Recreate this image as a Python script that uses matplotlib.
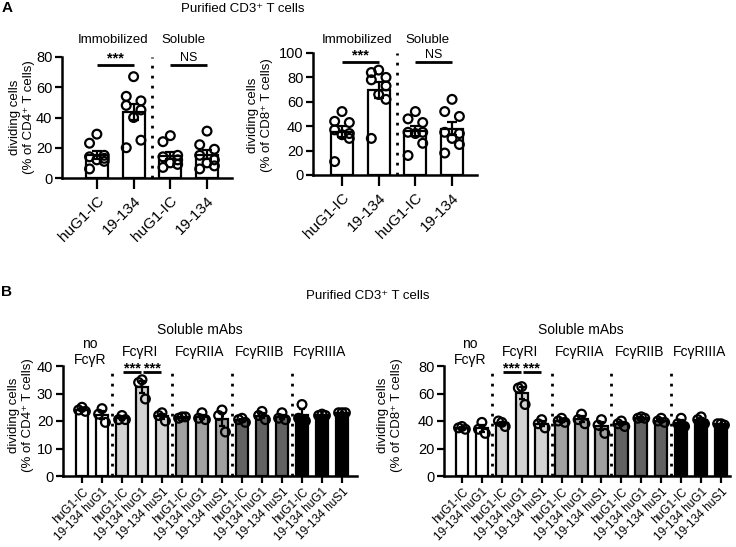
import numpy as np
import matplotlib
matplotlib.use('Agg')
import matplotlib.pyplot as plt

plt.rcParams['font.family'] = ['Liberation Sans', 'DejaVu Sans']

# ---------------- data ----------------
a_labels = ['huG1-IC', '19-134', 'huG1-IC', '19-134']
a_cd4 = [
    [29, 23, 15, 14, 13, 12, 11, 6],
    [67, 54, 51, 48, 45, 40, 25, 20],
    [28, 24, 15, 14, 12, 10, 9, 7],
    [31, 22, 19, 15, 12, 10, 8, 6],
]
a_cd8 = [
    [52, 44, 43, 37, 34, 33, 30, 11],
    [86, 84, 80, 78, 73, 66, 62, 30],
    [52, 46, 43, 35, 35, 34, 26, 16],
    [62, 52, 48, 35, 34, 30, 25, 18],
]

b_labels = ['huG1-IC', '19-134 huG1',
            'huG1-IC', '19-134 huG1', '19-134 huS1',
            'huG1-IC', '19-134 huG1', '19-134 huS1',
            'huG1-IC', '19-134 huG1', '19-134 huS1',
            'huG1-IC', '19-134 huG1', '19-134 huS1']
b_groups = ['no\nFcγR', 'FcγRI', 'FcγRIIA', 'FcγRIIB', 'FcγRIIIA']
b_group_sizes = [2, 3, 3, 3, 3]
b_group_colors = ['#ffffff', '#d3d3d3', '#a0a0a0', '#626262', '#000000']
b_cd4 = [
    [25.0, 24.0, 23.5], [24.5, 22.5, 19.5],
    [22.0, 20.5, 20.5], [35.0, 34.0, 28.0], [23.0, 22.0, 20.0],
    [21.5, 21.0, 21.5], [23.0, 21.0, 20.5], [24.0, 22.0, 16.0],
    [21.0, 20.5, 19.5], [23.5, 22.0, 20.5], [23.0, 21.0, 20.5],
    [26.0, 21.0, 20.0], [22.5, 22.0, 22.0], [23.0, 23.0, 23.0],
]
b_cd8 = [
    [36, 35, 34], [39, 34, 31],
    [39, 40, 36], [65, 64, 52], [41, 38, 35],
    [42, 40, 39], [45, 41, 38], [41, 37, 31],
    [40, 38, 36], [43, 42, 42], [42, 40, 39],
    [42, 38, 36], [43, 41, 38], [38, 38, 37],
]

# ---------------- figure ----------------
W, H = 736, 547
fig = plt.figure(figsize=(W / 100, H / 100), dpi=100)


def ax_px(x0, x1, ytop, ybot):
    return fig.add_axes([x0 / W, 1 - ybot / H, (x1 - x0) / W, (ybot - ytop) / H])


def ftext(x, y, s, **kw):
    fig.text(x / W, 1 - y / H, s, **kw)


A_OFF = [0, -0.2, 0.2, -0.2, 0.2, 0, 0.2, -0.2]
B_OFF = [0, -0.17, 0.17]


def draw(ax, groups, colors, offs, ms, capsize, bw, lw):
    for i, vals in enumerate(groups):
        v = np.array(vals, float)
        m = v.mean()
        s = v.std(ddof=1) / np.sqrt(len(v))
        ax.bar(i, m, width=bw, color=colors[i], edgecolor='black', linewidth=lw, zorder=2)
        ax.errorbar(i, m, yerr=s, fmt='none', ecolor='black', elinewidth=lw,
                    capsize=capsize, capthick=lw, zorder=3)
        ax.scatter(i + np.array(offs[:len(v)]), v, s=ms, facecolors='none',
                   edgecolors='black', linewidths=lw, zorder=4, clip_on=False)


def style(ax, xlim, ylim, yticks, labels, fs_tick, fs_lab, xtl, xpad=3):
    ax.set_xlim(*xlim)
    ax.set_ylim(*ylim)
    ax.patch.set_alpha(0)
    for s in ['top', 'right']:
        ax.spines[s].set_visible(False)
    for s in ['left', 'bottom']:
        ax.spines[s].set_linewidth(1.8)
    ax.set_yticks(yticks)
    ax.set_xticks(range(len(labels)))
    ax.set_xticklabels(labels, rotation=45, ha='right', rotation_mode='anchor',
                       fontsize=fs_lab)
    ax.tick_params(axis='both', direction='out', width=1.6, length=5)
    ax.tick_params(axis='x', length=xtl, pad=xpad)
    ax.tick_params(axis='y', labelsize=fs_tick, pad=2)


def dotted(ax, x):
    ax.axvline(x, color='black', lw=2, linestyle=(0, (1, 2.6)), zorder=1)


def sig(ax, x0, x1, y, txt, dy, fs, bold=False):
    ax.plot([x0, x1], [y, y], color='black', lw=2, clip_on=False, solid_capstyle='butt')
    ax.text((x0 + x1) / 2, y + dy, txt, ha='center', va='bottom', fontsize=fs,
            fontweight='bold' if bold else 'normal', clip_on=False)


# ---------------- Panel A ----------------
ftext(7, 8, 'A', fontsize=11, fontweight='bold', ha='center', va='center')
ftext(243, 9, 'Purified CD3⁺ T cells', fontsize=9.5, ha='center', va='center')

a_colors = ['white'] * 4

ax1 = ax_px(62, 232, 57, 178)
draw(ax1, a_cd4, a_colors, A_OFF, 40, 3.5, 0.6, 1.6)
style(ax1, (-0.95, 3.68), (0, 80), [0, 20, 40, 60, 80], a_labels, 10.5, 11, 8)
dotted(ax1, 1.5)
sig(ax1, 0, 1, 75, '***', -0.5, 10.5, bold=True)
sig(ax1, 2, 3, 75, 'NS', 0.3, 9)
ax1.text(0.45, 91, 'Immobilized', ha='center', va='center', fontsize=9.5, clip_on=False)
ax1.text(2.35, 91, 'Soluble', ha='center', va='center', fontsize=9.5, clip_on=False)
ftext(22, 117, 'dividing cells\n(% of CD4⁺ T cells)', fontsize=9.5, rotation=90,
      ha='center', va='center', multialignment='center')

ax2 = ax_px(313, 477, 53, 175)
draw(ax2, a_cd8, a_colors, A_OFF, 40, 3.5, 0.6, 1.6)
style(ax2, (-0.79, 3.68), (0, 100), [0, 20, 40, 60, 80, 100], a_labels, 10.5, 11, 8)
dotted(ax2, 1.5)
sig(ax2, 0, 1, 93, '***', -0.6, 10.5, bold=True)
sig(ax2, 2, 3, 93, 'NS', 0.4, 9)
ax2.text(0.42, 111, 'Immobilized', ha='center', va='center', fontsize=9.5, clip_on=False)
ax2.text(2.32, 111, 'Soluble', ha='center', va='center', fontsize=9.5, clip_on=False)
ftext(260, 115, 'dividing cells\n(% of CD8⁺ T cells)', fontsize=9.5, rotation=90,
      ha='center', va='center', multialignment='center')

# ---------------- Panel B ----------------
ftext(7, 292, 'B', fontsize=11, fontweight='bold', ha='center', va='center')
ftext(368, 296, 'Purified CD3⁺ T cells', fontsize=9.5, ha='center', va='center')

b_colors = []
for c, n in zip(b_group_colors, b_group_sizes):
    b_colors += [c] * n
bounds = np.cumsum(b_group_sizes)
starts = np.concatenate([[0], bounds[:-1]])
centers = [(s + e - 1) / 2 for s, e in zip(starts, bounds)]

B_TOP, B_BOT = 366, 476


def panel_b(ax, data, ylim, yticks, ystar, yglab, ylab_text, ylab_x, title_x):
    draw(ax, data, b_colors, B_OFF, 40, 2.5, 0.62, 1.6)
    style(ax, ylim[0], ylim[1], yticks, b_labels, 10.5, 8.5, 5, xpad=2)
    for b in bounds[:-1]:
        dotted(ax, b - 0.5)
    top = ylim[1][1]
    sig(ax, 2.05, 2.95, ystar, '***', -0.035 * top, 10.5, bold=True)
    sig(ax, 3.05, 3.95, ystar, '***', -0.035 * top, 10.5, bold=True)
    for g, cx in zip(b_groups, centers):
        xx = 0.4 if g.startswith('no') else cx - 0.1
        ax.text(xx, yglab, g, ha='center', va='center', fontsize=10, clip_on=False,
                linespacing=1.15)
    ftext(title_x, 330, 'Soluble mAbs', fontsize=10, ha='center', va='center')
    ftext(ylab_x, (B_TOP + B_BOT) / 2 - 6, ylab_text, fontsize=9.5, rotation=90,
          ha='center', va='center', multialignment='center')


ax3 = ax_px(63, 357, B_TOP, B_BOT)
panel_b(ax3, b_cd4, ((-0.95, 13.75), (0, 40)), [0, 10, 20, 30, 40], 38.0, 45,
        'dividing cells\n(% of CD4⁺ T cells)', 21, 200)

ax4 = ax_px(444, 730, B_TOP, B_BOT)
panel_b(ax4, b_cd8, ((-0.9, 13.45), (0, 80)), [0, 20, 40, 60, 80], 76, 90,
        'dividing cells\n(% of CD8⁺ T cells)', 390, 581)

fig.savefig('out.png', dpi=100)
